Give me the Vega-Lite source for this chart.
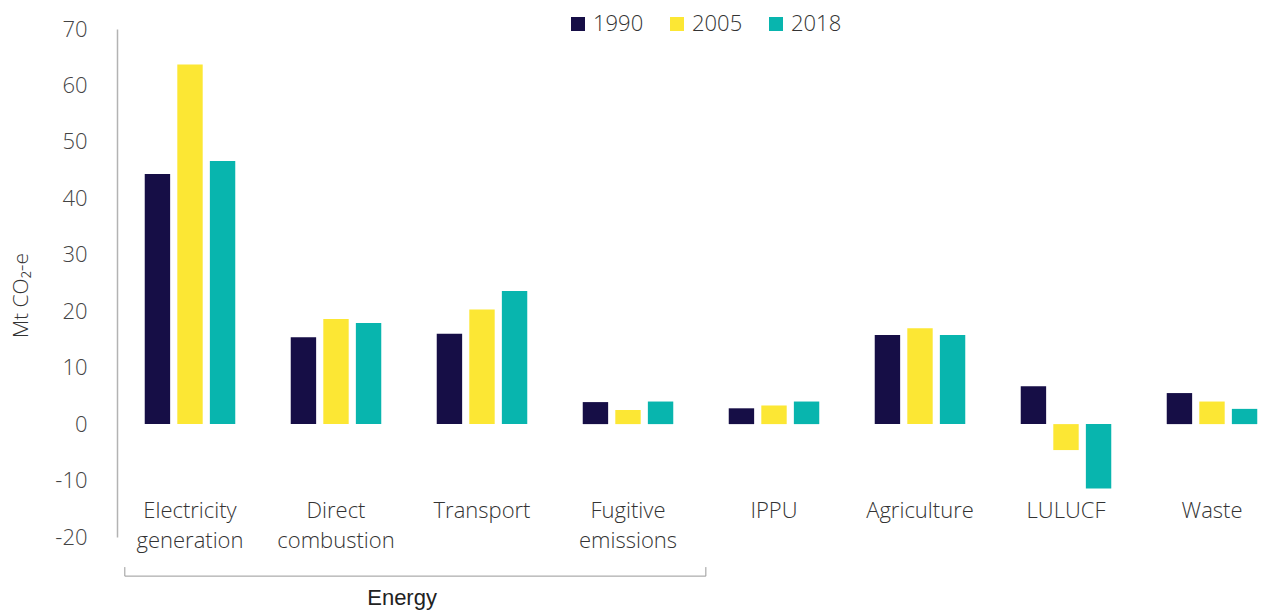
{
  "$schema": "https://vega.github.io/schema/vega-lite/v6.json",
  "width": 1168,
  "height": 508,
  "autosize": {"type": "none"},
  "padding": {"left": 117, "top": 29, "right": 0, "bottom": 75},
  "background": "white",
  "config": {
    "view": {"stroke": null},
    "font": "Open Sans"
  },
  "datasets": {
    "emissions": [
      {"category": "Electricity generation", "year": "1990", "value": 44.3},
      {"category": "Electricity generation", "year": "2005", "value": 63.7},
      {"category": "Electricity generation", "year": "2018", "value": 46.6},
      {"category": "Direct combustion", "year": "1990", "value": 15.4},
      {"category": "Direct combustion", "year": "2005", "value": 18.6},
      {"category": "Direct combustion", "year": "2018", "value": 17.9},
      {"category": "Transport", "year": "1990", "value": 16.0},
      {"category": "Transport", "year": "2005", "value": 20.3},
      {"category": "Transport", "year": "2018", "value": 23.6},
      {"category": "Fugitive emissions", "year": "1990", "value": 3.9},
      {"category": "Fugitive emissions", "year": "2005", "value": 2.5},
      {"category": "Fugitive emissions", "year": "2018", "value": 4.0},
      {"category": "IPPU", "year": "1990", "value": 2.8},
      {"category": "IPPU", "year": "2005", "value": 3.3},
      {"category": "IPPU", "year": "2018", "value": 4.0},
      {"category": "Agriculture", "year": "1990", "value": 15.8},
      {"category": "Agriculture", "year": "2005", "value": 17.0},
      {"category": "Agriculture", "year": "2018", "value": 15.8},
      {"category": "LULUCF", "year": "1990", "value": 6.7},
      {"category": "LULUCF", "year": "2005", "value": -4.6},
      {"category": "LULUCF", "year": "2018", "value": -11.4},
      {"category": "Waste", "year": "1990", "value": 5.5},
      {"category": "Waste", "year": "2005", "value": 4.0},
      {"category": "Waste", "year": "2018", "value": 2.7}
    ],
    "groups": [
      {"group": "Energy", "from": "Electricity generation", "to": "Fugitive emissions", "mid": "Direct combustion"}
    ]
  },
  "layer": [
    {
      "data": {"name": "emissions"},
      "mark": {"type": "bar"},
      "encoding": {
        "x": {
          "field": "category",
          "type": "nominal",
          "scale": {
            "domain": ["Electricity generation", "Direct combustion", "Transport", "Fugitive emissions", "IPPU", "Agriculture", "LULUCF", "Waste"],
            "paddingInner": 0.38,
            "paddingOuter": 0.19
          },
          "axis": {
            "title": null,
            "domain": false,
            "ticks": false,
            "labelAngle": 0,
            "labelExpr": "split(datum.label, ' ')",
            "labelFontSize": 22,
            "labelFontWeight": 300,
            "labelColor": "#333333",
            "labelBaseline": "top",
            "labelLineHeight": 30,
            "labelPadding": -37
          }
        },
        "xOffset": {
          "field": "year",
          "type": "nominal",
          "scale": {"paddingInner": 0.22, "paddingOuter": 0}
        },
        "y": {
          "field": "value",
          "type": "quantitative",
          "scale": {"domain": [-20, 70], "nice": false},
          "axis": {
            "values": [-20, -10, 0, 10, 20, 30, 40, 50, 60, 70],
            "labelExpr": "datum.value + ''",
            "grid": false,
            "ticks": false,
            "domainColor": "#b3b3b3",
            "domainWidth": 1.5,
            "labelFontSize": 22,
            "labelFontWeight": 300,
            "labelColor": "#444444",
            "labelPadding": 30,
            "title": "Mt CO₂-e",
            "titleFontSize": 21,
            "titleFontWeight": 300,
            "titleColor": "#333333",
            "titleX": -86,
            "titleY": 266
          }
        },
        "color": {
          "field": "year",
          "type": "nominal",
          "scale": {"domain": ["1990", "2005", "2018"], "range": ["#160e46", "#fce734", "#08b5ae"]},
          "legend": {
            "title": null,
            "orient": "none",
            "direction": "horizontal",
            "legendX": 450,
            "legendY": -16,
            "symbolType": "square",
            "symbolSize": 196,
            "symbolStrokeWidth": 0,
            "symbolOpacity": 1,
            "labelFontSize": 22,
            "labelFontWeight": 300,
            "labelColor": "#333333",
            "labelOffset": 4,
            "columnPadding": 22,
            "padding": 0
          }
        }
      }
    },
    {
      "mark": {"type": "rule", "color": "#b3b3b3", "strokeWidth": 2},
      "encoding": {"y": {"datum": 0, "type": "quantitative"}}
    },
    {
      "data": {"name": "groups"},
      "mark": {"type": "rule", "color": "#999999", "strokeWidth": 1},
      "encoding": {
        "x": {"field": "from", "type": "nominal", "bandPosition": -0.22},
        "x2": {"field": "to", "bandPosition": 1.36},
        "y": {"datum": -26.93, "type": "quantitative"}
      }
    },
    {
      "data": {"name": "groups"},
      "mark": {"type": "rule", "color": "#999999", "strokeWidth": 1},
      "encoding": {
        "x": {"field": "from", "type": "nominal", "bandPosition": -0.22},
        "y": {"datum": -26.93, "type": "quantitative"},
        "y2": {"datum": -25.33}
      }
    },
    {
      "data": {"name": "groups"},
      "mark": {"type": "rule", "color": "#999999", "strokeWidth": 1},
      "encoding": {
        "x": {"field": "to", "type": "nominal", "bandPosition": 1.36},
        "y": {"datum": -26.93, "type": "quantitative"},
        "y2": {"datum": -25.33}
      }
    },
    {
      "data": {"name": "groups"},
      "mark": {"type": "text", "font": "Liberation Sans", "fontSize": 22, "color": "#222222", "baseline": "middle", "align": "center"},
      "encoding": {
        "x": {"field": "mid", "type": "nominal", "bandPosition": 1.23},
        "y": {"datum": -30.85, "type": "quantitative"},
        "text": {"field": "group"}
      }
    }
  ]
}
